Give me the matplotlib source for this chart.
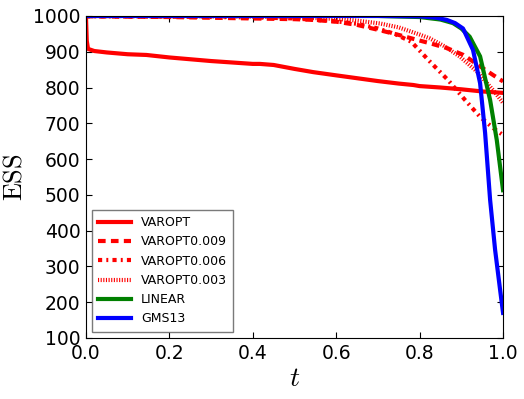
import matplotlib
matplotlib.use('Agg')
import matplotlib.pyplot as plt

plt.rcParams['mathtext.fontset'] = 'cm'
plt.rcParams['lines.scale_dashes'] = False

# values
t_varopt = [0.0, 0.002, 0.005, 0.02, 0.05, 0.1, 0.145, 0.2, 0.25, 0.3, 0.35, 0.4, 0.417, 0.45,
            0.5, 0.545, 0.6, 0.65, 0.7, 0.75, 0.785, 0.8, 0.85, 0.9, 0.95, 1.0]
varopt = [1000, 930, 908, 902, 898, 893, 891, 884, 879, 874, 870, 866, 866, 863,
          852, 843, 834, 826, 818, 811, 807, 804, 800, 795, 789, 785]

t_v009 = [0.0, 0.2, 0.4, 0.5, 0.545, 0.6, 0.65, 0.705, 0.75, 0.785, 0.83, 0.866, 0.905, 0.914,
          0.945, 0.976, 1.0]
v009 = [999, 997, 993, 991, 989, 984, 975, 960, 947, 936, 922, 910, 891, 884,
        859, 835, 817]

t_v006 = [0.0, 0.2, 0.4, 0.5, 0.6, 0.65, 0.7, 0.74, 0.78, 0.825, 0.868, 0.909, 0.945, 0.976, 1.0]
v006 = [999, 998, 996, 993, 985, 978, 965, 950, 928, 872, 821, 765, 718, 687, 667]

t_v003 = [0.0, 0.2, 0.4, 0.5, 0.6, 0.65, 0.705, 0.75, 0.8, 0.825, 0.86, 0.897, 0.937, 0.976, 1.0]
v003 = [1000, 999, 998, 996, 992, 987, 979, 968, 948, 937, 915, 886, 845, 793, 757]

t_linear = [0.0, 0.5, 0.7, 0.8, 0.85, 0.88, 0.9, 0.92, 0.945, 0.969, 0.985, 1.0]
linear = [1000, 1000, 1000, 997, 990, 980, 965, 942, 887, 765, 653, 513]

t_gms = [0.0, 0.5, 0.7, 0.8, 0.84, 0.865, 0.885, 0.904, 0.928, 0.945, 0.957, 0.969, 0.981,
         0.993, 1.0]
gms = [1000, 1000, 1000, 999, 995, 989, 980, 965, 905, 812, 673, 486, 346, 234, 170]

fig = plt.figure(figsize=(5.24, 3.99), dpi=100, facecolor='white')
ax = fig.add_axes([0.164, 0.153, 0.796, 0.807])

ax.plot(t_varopt, varopt, color='red', lw=3, label='VAROPT')
ax.plot(t_v009, v009, color='red', lw=3, dashes=(5.5, 3.8), label='VAROPT0.009')
ax.plot(t_v006, v006, color='red', lw=3, dashes=(3, 3, 1.4, 3), label='VAROPT0.006')
ax.plot(t_v003, v003, color='red', lw=3, dashes=(0.8, 1.1), label='VAROPT0.003')
ax.plot(t_linear, linear, color='green', lw=3, label='LINEAR')
ax.plot(t_gms, gms, color='blue', lw=3, label='GMS13')

ax.set_xlim(0, 1)
ax.set_ylim(100, 1000)
ax.set_xticks([0, 0.2, 0.4, 0.6, 0.8, 1.0])
ax.set_yticks(range(100, 1001, 100))
ax.tick_params(direction='in', top=True, right=True, labelsize=13.5, length=4, pad=4)
ax.set_xlabel(r'$t$', fontsize=20, labelpad=1)
ax.set_ylabel(r'$\mathrm{ESS}$', fontsize=19)

leg = ax.legend(loc='lower left', fontsize=9, fancybox=False, handlelength=2.6,
                borderpad=0.5, labelspacing=0.5)
leg.get_frame().set_edgecolor('0.35')

fig.savefig('out.png', dpi=100, facecolor='white')
